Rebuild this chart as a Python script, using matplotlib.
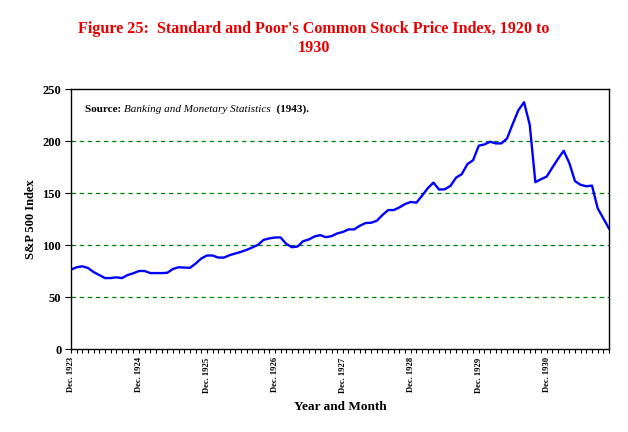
import matplotlib
matplotlib.use("Agg")
import matplotlib.pyplot as plt
from matplotlib.ticker import MultipleLocator, FixedLocator

# Monthly index values
values = [
    76.3, 78.6, 79.5, 77.9, 74.0, 71.1, 68.2, 68.2, 68.9, 68.2, 71.1, 72.8,
    75.0, 75.0, 73.0, 73.0, 73.0, 73.3, 76.9, 78.6, 78.3, 78.0, 82.1, 87.0,
    89.9, 89.9, 87.9, 87.9, 90.2, 91.8, 93.4, 95.3, 97.6, 100.1, 104.9, 106.3,
    107.2, 107.3, 101.1, 97.9, 98.5, 103.7, 105.3, 108.2, 109.5, 107.5, 108.5, 111.1,
    112.5, 115.0, 115.0, 118.5, 121.1, 121.4, 123.3, 128.8, 133.6, 133.6, 136.2, 139.4,
    141.4, 140.7, 147.5, 154.6, 160.0, 153.3, 153.6, 156.8, 164.8, 168.1, 177.8, 181.5,
    195.5, 196.7, 199.3, 197.7, 197.7, 202.5, 216.4, 229.6, 237.3, 215.7, 160.4, 163.3,
    165.8, 174.5, 182.9, 190.6, 178.7, 161.4, 157.8, 156.5, 157.1, 135.3, 125.6, 115.9,
]
tick_labels = ["Dec. 1923", "Dec. 1924", "Dec. 1925", "Dec. 1926",
               "Dec. 1927", "Dec. 1928", "Dec. 1929", "Dec. 1930"]
y_ticks = [0, 50, 100, 150, 200, 250]

title = "Figure 25:  Standard and Poor's Common Stock Price Index, 1920 to\n1930"

plt.rcParams['font.family'] = ['Liberation Serif', 'DejaVu Serif']

fig = plt.figure(figsize=(6.28, 4.32), dpi=100)
ax = fig.add_axes([71/628, 1-349/432, 538/628, 260/432])

x = list(range(len(values)))
ax.plot(x, values, color='#0000FF', lw=1.7, solid_joinstyle='round')

ax.set_xlim(0, len(values) - 1)
ax.set_ylim(0, 250)

ax.set_yticks(y_ticks)
ax.set_yticklabels([str(v) for v in y_ticks], fontsize=9, fontweight='bold')
for v in y_ticks[1:-1]:
    ax.axhline(v, color='#008000', lw=0.9, ls=(0, (3.5, 3)), zorder=0)

major_pos = list(range(0, len(values), 12))[:len(tick_labels)]
ax.xaxis.set_major_locator(FixedLocator(major_pos))
ax.xaxis.set_minor_locator(MultipleLocator(1))
ax.set_xticklabels(tick_labels, rotation=90, fontsize=6.2, fontweight='bold')
ax.tick_params(axis='x', which='both', direction='out', length=3, width=0.8, pad=3)
ax.tick_params(axis='y', direction='out', length=4, width=0.8, pad=3)

for s in ax.spines.values():
    s.set_linewidth(1.0)
    s.set_color('black')

ax.set_ylabel("S&P 500 Index", fontsize=9, fontweight='bold', labelpad=4)
ax.set_xlabel("Year and Month", fontsize=9.5, fontweight='bold', labelpad=6)

fig.text(0.5, 1 - 38.5/432, title, ha='center', va='center', color='#E80000',
         fontsize=11.6, fontweight='bold', linespacing=1.3)

t1 = ax.text(0.026, 0.905, "Source: ", transform=ax.transAxes, fontsize=8,
             fontweight='bold', va='bottom')
t2 = ax.annotate("Banking and Monetary Statistics", xy=(1, 0), xycoords=t1,
                 fontsize=8, style='italic', va='bottom')
t3 = ax.annotate("  (1943).", xy=(1, 0), xycoords=t2, fontsize=8,
                 fontweight='bold', va='bottom')

fig.savefig("out.png", dpi=100)
